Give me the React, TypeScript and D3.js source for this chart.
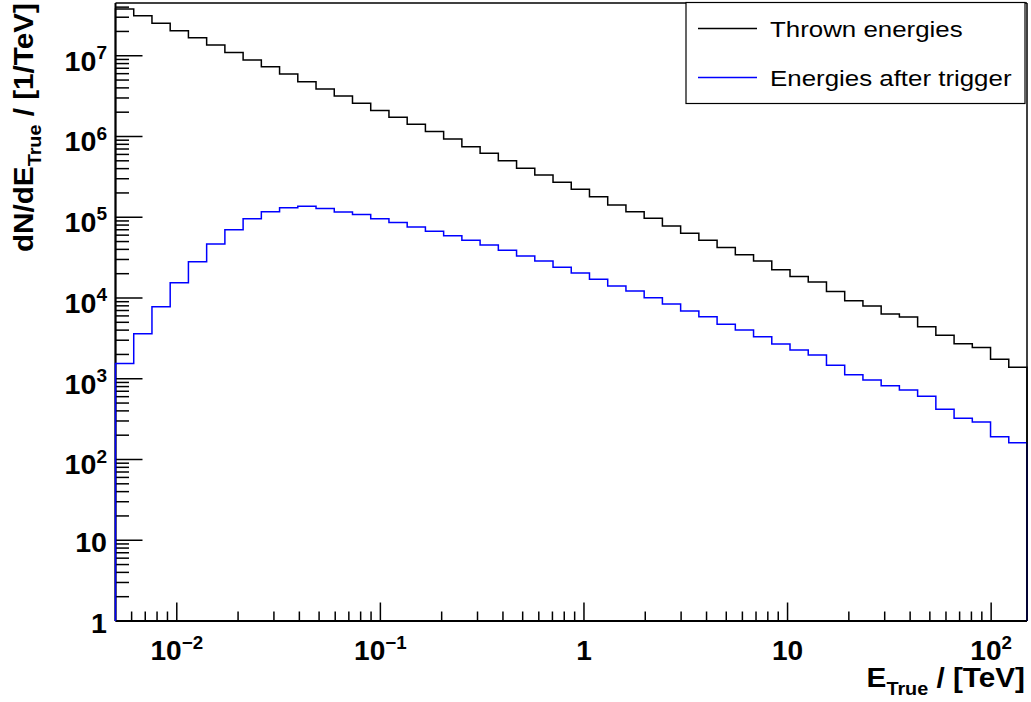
import React from "react";
import * as d3 from "d3";

// Histogram: 50 log-spaced bins from 0.005 to 150 TeV
const xMin = 0.005;
const xMax = 150;
const nBins = 50;
const yMin = 1;
const yMax = 4.5e7;

const thrown = [
  3.79e7, 3.13e7, 2.52e7, 2.04e7, 1.67e7, 1.36e7, 1.1e7, 8.86e6, 7.32e6, 5.94e6,
  4.77e6, 3.87e6, 3.17e6, 2.58e6, 2.1e6, 1.73e6, 1.42e6, 1.15e6, 9.31e5, 7.48e5,
  6.19e5, 5.01e5, 4.04e5, 3.34e5, 2.71e5, 2.22e5, 1.8e5, 1.42e5, 1.17e5, 9.71e4,
  7.8e4, 6.33e4, 5.18e4, 4.22e4, 3.44e4, 2.87e4, 2.24e4, 1.84e4, 1.58e4, 1.2e4,
  9.27e3, 7.96e3, 6.34e3, 5.82e3, 4.41e3, 3.45e3, 2.72e3, 2.43e3, 1.74e3, 1.39e3,
];

const triggered = [
  1.55e3, 3.6e3, 7.78e3, 1.55e4, 2.81e4, 4.67e4, 7.01e4, 9.6e4, 1.17e5, 1.31e5,
  1.37e5, 1.28e5, 1.16e5, 1.08e5, 9.57e4, 8.61e4, 7.57e4, 6.7e4, 5.91e4, 5.18e4,
  4.53e4, 3.9e4, 3.31e4, 2.87e4, 2.4e4, 2.04e4, 1.71e4, 1.41e4, 1.22e4, 1.01e4,
  8.43e3, 6.9e3, 5.87e3, 4.74e3, 4.02e3, 3.32e3, 2.69e3, 2.27e3, 1.97e3, 1.47e3,
  1.12e3, 966, 820, 726, 607, 419, 324, 291, 191, 161,
];

const xMajorTicks = [0.01, 0.1, 1, 10, 100];
const xMajorBase = ["10", "10", "1", "10", "10"];
const xMajorExp = ["\u22122", "\u22121", "", "", "2"];

const yMajorTicks = [1, 10, 100, 1e3, 1e4, 1e5, 1e6, 1e7];
const yMajorBase = ["1", "10", "10", "10", "10", "10", "10", "10"];
const yMajorExp = ["", "", "2", "3", "4", "5", "6", "7"];

const legendLabels = ["Thrown energies", "Energies after trigger"];
const seriesColors = ["#000000", "#0000ff"];

const W = 1031;
const H = 702;
const L = 115.5;
const R = 1027;
const T = 3;
const B = 621;

const FONT = "'Liberation Sans', Arial, Helvetica, sans-serif";

export default function App() {
  const x = d3.scaleLog().domain([xMin, xMax]).range([L, R]);
  const y = d3.scaleLog().domain([yMin, yMax]).range([B, T]);

  const edges = d3.range(nBins + 1).map((i) => xMin * Math.pow(xMax / xMin, i / nBins));

  const histPath = (vals: number[]) => {
    const pts: [number, number][] = [[x(edges[0]), B]];
    vals.forEach((v, i) => {
      pts.push([x(edges[i]), y(v)]);
      pts.push([x(edges[i + 1]), y(v)]);
    });
    pts.push([x(edges[nBins]), B]);
    return d3.line()(pts) || "";
  };

  const xMinor: number[] = [];
  for (let e = -3; e <= 2; e++) {
    for (let m = 2; m <= 9; m++) {
      const v = m * Math.pow(10, e);
      if (v > xMin && v < xMax) xMinor.push(v);
    }
  }
  const yMinor: number[] = [];
  for (let e = 0; e <= 7; e++) {
    for (let m = 2; m <= 9; m++) {
      const v = m * Math.pow(10, e);
      if (v > yMin && v < yMax) yMinor.push(v);
    }
  }

  return (
    <svg
      width={W}
      height={H}
      style={{ position: "absolute", left: 0, top: 0, background: "#fff" }}
      fontFamily={FONT}
    >
      <rect x={0} y={0} width={W} height={H} fill="#fff" />

      {yMinor.map((v, i) => (
        <line key={"ym" + i} x1={L} x2={L + 13.5} y1={y(v)} y2={y(v)} stroke="#000" strokeWidth={1.5} />
      ))}
      {yMajorTicks.map((v, i) => (
        <line key={"yM" + i} x1={L} x2={L + 27} y1={y(v)} y2={y(v)} stroke="#000" strokeWidth={1.5} />
      ))}
      {xMinor.map((v, i) => (
        <line key={"xm" + i} x1={x(v)} x2={x(v)} y1={B} y2={B - 9.5} stroke="#000" strokeWidth={1.5} />
      ))}
      {xMajorTicks.map((v, i) => (
        <line key={"xM" + i} x1={x(v)} x2={x(v)} y1={B} y2={B - 18.5} stroke="#000" strokeWidth={1.5} />
      ))}

      <line x1={L} x2={L} y1={T} y2={B} stroke="#000" strokeWidth={2} />
      <line x1={L} x2={R} y1={B} y2={B} stroke="#000" strokeWidth={2} />
      <line x1={L} x2={R} y1={T} y2={T} stroke="#000" strokeWidth={1.5} />

      <path d={histPath(thrown)} fill="none" stroke={seriesColors[0]} strokeWidth={1.5} />
      <path d={histPath(triggered)} fill="none" stroke={seriesColors[1]} strokeWidth={1.5} />

      <line x1={R} x2={R} y1={T} y2={B} stroke="#000" strokeWidth={1.5} />

      {yMajorTicks.map((v, i) => (
        <text
          key={"yl" + i}
          transform={`translate(107,${y(v) + (yMajorExp[i] ? 15 : 11.5)}) scale(1.06,1)`}
          textAnchor="end"
          fontSize={27}
          fontWeight="bold"
        >
          {yMajorBase[i]}
          {yMajorExp[i] ? (
            <tspan fontSize={18} dy={-12}>
              {yMajorExp[i]}
            </tspan>
          ) : null}
        </text>
      ))}

      {xMajorTicks.map((v, i) => (
        <text
          key={"xl" + i}
          transform={`translate(${x(v)},659.5) scale(1.04,1)`}
          textAnchor="middle"
          fontSize={27}
          fontWeight="bold"
        >
          {xMajorBase[i]}
          {xMajorExp[i] ? (
            <tspan fontSize={18} dy={-11}>
              {xMajorExp[i]}
            </tspan>
          ) : null}
        </text>
      ))}

      <text
        transform="translate(1025,687) scale(1.1,1)"
        textAnchor="end"
        fontSize={27}
        fontWeight="bold"
      >
        E
        <tspan fontSize={18} dy={8}>
          True
        </tspan>
        <tspan dy={-8}> / [TeV]</tspan>
      </text>
      <text
        transform="translate(33,3) rotate(-90) scale(1.1,1)"
        textAnchor="end"
        fontSize={27}
        fontWeight="bold"
      >
        dN/dE
        <tspan fontSize={18} dy={8}>
          True
        </tspan>
        <tspan dy={-8}> / [1/TeV]</tspan>
      </text>

      <rect x={686} y={2.5} width={339} height={101} fill="#fff" stroke="#000" strokeWidth={1.2} />
      {legendLabels.map((lab, i) => {
        const cy = i === 0 ? 28.5 : 77.5;
        return (
          <g key={"lg" + i}>
            <line x1={698} x2={757} y1={cy} y2={cy} stroke={seriesColors[i]} strokeWidth={1.5} />
            <text transform={`translate(770,${cy + 8}) scale(1.15,1)`} fontSize={22.5}>
              {lab}
            </text>
          </g>
        );
      })}
    </svg>
  );
}
